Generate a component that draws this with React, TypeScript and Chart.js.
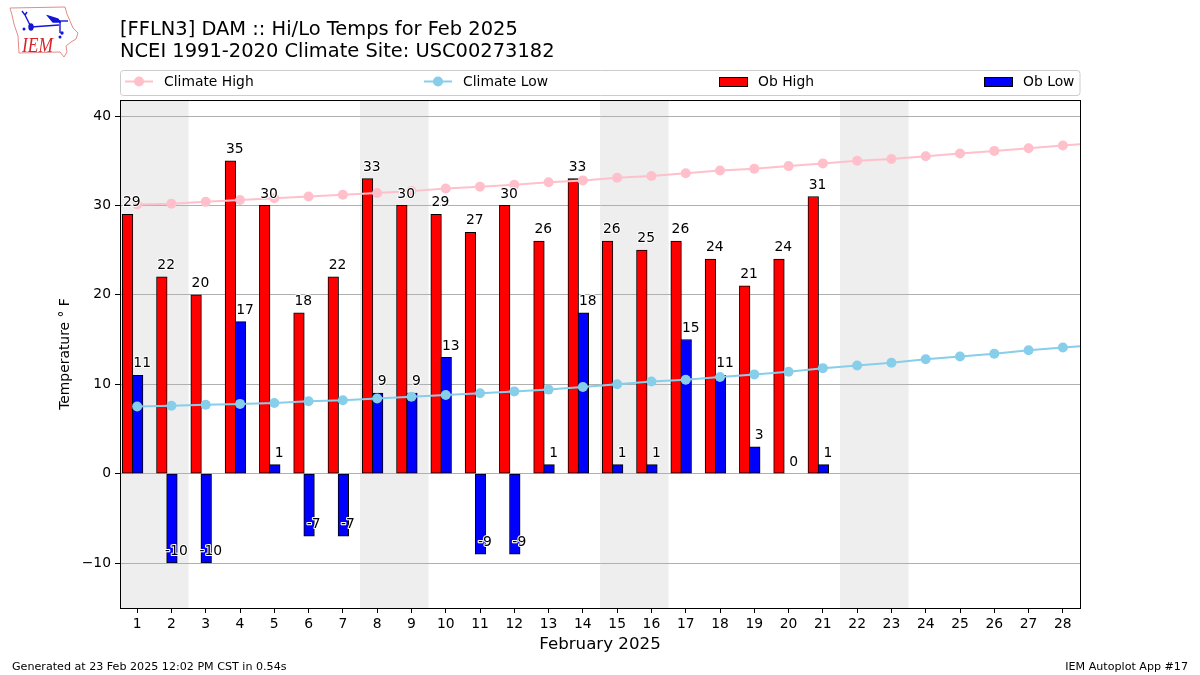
import React, { useEffect, useRef } from "react";
import { Chart, registerables } from "chart.js";

Chart.register(...registerables);

const titleLines = ["[FFLN3] DAM :: Hi/Lo Temps for Feb 2025", "NCEI 1991-2020 Climate Site: USC00273182"];
const xTitle = "February 2025";
const yTitle = "Temperature \u00b0 F";
const footerLeft = "Generated at 23 Feb 2025 12:02 PM CST in 0.54s";
const footerRight = "IEM Autoplot App #17";

const xTicks = [1, 2, 3, 4, 5, 6, 7, 8, 9, 10, 11, 12, 13, 14, 15, 16, 17, 18, 19, 20, 21, 22, 23, 24, 25, 26, 27, 28];
const yTicks = [-10, 0, 10, 20, 30, 40];
const obDays = [1, 2, 3, 4, 5, 6, 7, 8, 9, 10, 11, 12, 13, 14, 15, 16, 17, 18, 19, 20, 21];
const obHigh = [29, 22, 20, 35, 30, 18, 22, 33, 30, 29, 27, 30, 26, 33, 26, 25, 26, 24, 21, 24, 31];
const obLow = [11, -10, -10, 17, 1, -7, -7, 9, 9, 13, -9, -9, 1, 18, 1, 1, 15, 11, 3, 0, 1];
const climateDays = [1, 2, 3, 4, 5, 6, 7, 8, 9, 10, 11, 12, 13, 14, 15, 16, 17, 18, 19, 20, 21, 22, 23, 24, 25, 26, 27, 28, 29];
const climateHigh = [30.1, 30.2, 30.4, 30.6, 30.8, 31.0, 31.2, 31.4, 31.6, 31.9, 32.1, 32.3, 32.6, 32.8, 33.1, 33.3, 33.6, 33.9, 34.1, 34.4, 34.7, 35.0, 35.2, 35.5, 35.8, 36.1, 36.4, 36.7, 37.0];
const climateLow = [7.5, 7.6, 7.7, 7.8, 7.9, 8.1, 8.2, 8.4, 8.6, 8.8, 9.0, 9.2, 9.4, 9.7, 10.0, 10.3, 10.5, 10.8, 11.1, 11.4, 11.8, 12.1, 12.4, 12.8, 13.1, 13.4, 13.8, 14.1, 14.4];
const weekendSpans = [[0.5, 2.5], [7.5, 9.5], [14.5, 16.5], [21.5, 23.5]];

const FONT = "'DejaVu Sans'";
const HIGH_OFFSET = -0.28;
const LOW_OFFSET = 0.015;

const backgroundPlugin = {
  id: "background",
  beforeDraw(chart: any) {
    const { ctx, chartArea: a, scales } = chart;
    ctx.save();
    ctx.fillStyle = "#eeeeee";
    for (const [s, e] of weekendSpans) {
      const x0 = scales.x.getPixelForValue(s);
      const x1 = scales.x.getPixelForValue(e);
      ctx.fillRect(x0, a.top, x1 - x0, a.bottom - a.top);
    }
    ctx.restore();
  },
};

const labelPlugin = {
  id: "barLabels",
  afterDatasetsDraw(chart: any) {
    const { ctx, scales } = chart;
    ctx.save();
    ctx.font = `13.89px ${FONT}`;
    ctx.textAlign = "center";
    ctx.textBaseline = "middle";
    const draw = (value: number, xVal: number) => {
      const px = scales.x.getPixelForValue(xVal) + 5;
      const py = scales.y.getPixelForValue(value) - 11.5;
      ctx.lineJoin = "round";
      ctx.lineWidth = 2;
      ctx.strokeStyle = "#ffffff";
      ctx.strokeText(String(value), px, py);
      ctx.fillStyle = "#000000";
      ctx.fillText(String(value), px, py);
    };
    obDays.forEach((d, i) => {
      draw(obHigh[i], d - 0.3);
      draw(obLow[i], d);
    });
    ctx.restore();
  },
};

const framePlugin = {
  id: "frameAndLegend",
  afterDraw(chart: any) {
    const { ctx, chartArea: a } = chart;
    ctx.save();
    ctx.strokeStyle = "#000000";
    ctx.lineWidth = 1;
    ctx.strokeRect(a.left + 0.5, a.top + 0.5, a.right - a.left, a.bottom - a.top);

    // legend frame
    ctx.strokeStyle = "#cccccc";
    ctx.beginPath();
    ctx.roundRect(120.5, 70.5, 959.5, 25, 3);
    ctx.stroke();

    const y = 81.5;
    ctx.font = `13.89px ${FONT}`;
    ctx.textBaseline = "middle";
    ctx.textAlign = "left";
    const starts = [125, 424, 719, 984];
    chart.data.datasets.forEach((d: any, i: number) => {
      const x = starts[i];
      if (d.type === "line") {
        ctx.strokeStyle = d.borderColor;
        ctx.lineWidth = 2;
        ctx.beginPath();
        ctx.moveTo(x, y);
        ctx.lineTo(x + 28, y);
        ctx.stroke();
        ctx.fillStyle = d.backgroundColor;
        ctx.beginPath();
        ctx.arc(x + 14, y, 5, 0, Math.PI * 2);
        ctx.fill();
      } else {
        ctx.fillStyle = d.backgroundColor;
        ctx.fillRect(x, 77, 28, 9);
        ctx.strokeStyle = "#000000";
        ctx.lineWidth = 1;
        ctx.strokeRect(x + 0.5, 77.5, 28, 9);
      }
      ctx.fillStyle = "#000000";
      ctx.fillText(d.label, x + 39, y + 0.5);
    });
    ctx.restore();
  },
};

function Logo() {
  return (
    <svg width="90" height="62" style={{ position: "absolute", left: 0, top: 0 }}>
      <path
        d="M10 8 L65 7 L67 14 L70 21 L73 28 L78 33 L76 39 L71 42 L66 46 L67 52 L64 57 L60 52 L19 53 L18 36 L14 24 L12 15 Z"
        fill="#ffffff"
        stroke="#e58a8a"
        strokeWidth="1"
      />
      <g stroke="#1414d8" strokeWidth="1.4" fill="#1414d8">
        <line x1="31" y1="27" x2="59" y2="25" />
        <path d="M22 11 L25 15 L31 27 M25 15 L27 12" fill="none" />
        <line x1="56" y1="21" x2="68" y2="21" />
        <line x1="60" y1="21" x2="60" y2="33" />
        <path d="M48 16 L58 19 L60 22 L53 22 Z" />
        <ellipse cx="31" cy="27" rx="2" ry="3" />
        <circle cx="24" cy="29" r="0.8" />
        <circle cx="62" cy="33" r="1" />
        <circle cx="60" cy="37" r="0.8" />
      </g>
      <text x="22" y="51.5" fontFamily="'Liberation Serif'" fontStyle="italic" fontSize="22" textLength="31" lengthAdjust="spacingAndGlyphs" fill="#d8232a">IEM</text>
    </svg>
  );
}

export default function App() {
  const ref = useRef<HTMLCanvasElement>(null);

  useEffect(() => {
    const chart = new Chart(ref.current as HTMLCanvasElement, {
      type: "bar",
      data: {
        datasets: [
          {
            type: "line",
            label: "Climate High",
            data: climateDays.map((d, i) => ({ x: d, y: climateHigh[i] })),
            borderColor: "#ffc0cb",
            backgroundColor: "#ffc0cb",
            borderWidth: 2,
            pointRadius: 5,
            pointBorderWidth: 0,
            tension: 0,
            order: 1,
          },
          {
            type: "line",
            label: "Climate Low",
            data: climateDays.map((d, i) => ({ x: d, y: climateLow[i] })),
            borderColor: "#87ceeb",
            backgroundColor: "#87ceeb",
            borderWidth: 2,
            pointRadius: 5,
            pointBorderWidth: 0,
            tension: 0,
            order: 0,
          },
          {
            type: "bar",
            label: "Ob High",
            data: obDays.map((d, i) => ({ x: d + HIGH_OFFSET, y: obHigh[i] })),
            backgroundColor: "#ff0000",
            borderColor: "#000000",
            borderWidth: 1,
            borderSkipped: false,
            barThickness: 10.6,
            grouped: false,
            order: 3,
          },
          {
            type: "bar",
            label: "Ob Low",
            data: obDays.map((d, i) => ({ x: d + LOW_OFFSET, y: obLow[i] })),
            backgroundColor: "#0000ff",
            borderColor: "#000000",
            borderWidth: 1,
            borderSkipped: false,
            barThickness: 10.6,
            grouped: false,
            order: 2,
          },
        ] as any,
      },
      options: {
        responsive: false,
        animation: false,
        layout: { padding: { left: 57, right: 120, top: 0, bottom: 20 } },
        plugins: {
          legend: { display: false },
          tooltip: { enabled: false },
          title: {
            display: true,
            text: titleLines,
            align: "start",
            fullSize: false,
            color: "#000000",
            font: { family: FONT, size: 19.44, weight: "normal", lineHeight: 1.14 },
            padding: { top: 19, bottom: 36.7 },
          },
        },
        scales: {
          x: {
            type: "linear",
            offset: false,
            min: 0.5,
            max: 28.5,
            afterFit(s: any) { s.height = 47; },
            afterBuildTicks(s: any) { s.ticks = xTicks.map((value) => ({ value })); },
            ticks: { autoSkip: false, maxRotation: 0, color: "#000000", font: { family: FONT, size: 13.89 }, padding: 3 },
            grid: { offset: false, drawOnChartArea: false, drawTicks: true, tickLength: 5, tickColor: "#000000" },
            border: { color: "#000000" },
            title: { display: true, text: xTitle, color: "#000000", font: { family: FONT, size: 16.67 }, padding: 0 },
          },
          y: {
            type: "linear",
            min: -15.03,
            max: 41.79,
            afterFit(s: any) { s.width = 63; },
            afterBuildTicks(s: any) { s.ticks = yTicks.map((value) => ({ value })); },
            ticks: { color: "#000000", font: { family: FONT, size: 13.89 }, padding: 4,
              callback: (v: any) => String(v).replace("-", "\u2212") },
            grid: { color: "#b0b0b0", lineWidth: 1, tickLength: 5, tickColor: "#000000" },
            border: { color: "#000000" },
            title: { display: true, text: yTitle, color: "#000000", font: { family: FONT, size: 13.89 }, padding: 0 },
          },
        },
      },
      plugins: [backgroundPlugin, labelPlugin, framePlugin],
    } as any);
    return () => chart.destroy();
  }, []);

  const footer: React.CSSProperties = { position: "absolute", top: 660, fontFamily: FONT, fontSize: 11.11, lineHeight: "13px", color: "#000" };
  return (
    <div style={{ position: "fixed", left: 0, top: 0, width: 1200, height: 675, background: "#fff", overflow: "hidden" }}>
      <canvas ref={ref} width={1200} height={675} style={{ display: "block", width: 1200, height: 675 }} />
      <Logo />
      <div style={{ ...footer, left: 12 }}>{footerLeft}</div>
      <div style={{ ...footer, right: 12 }}>{footerRight}</div>
    </div>
  );
}
